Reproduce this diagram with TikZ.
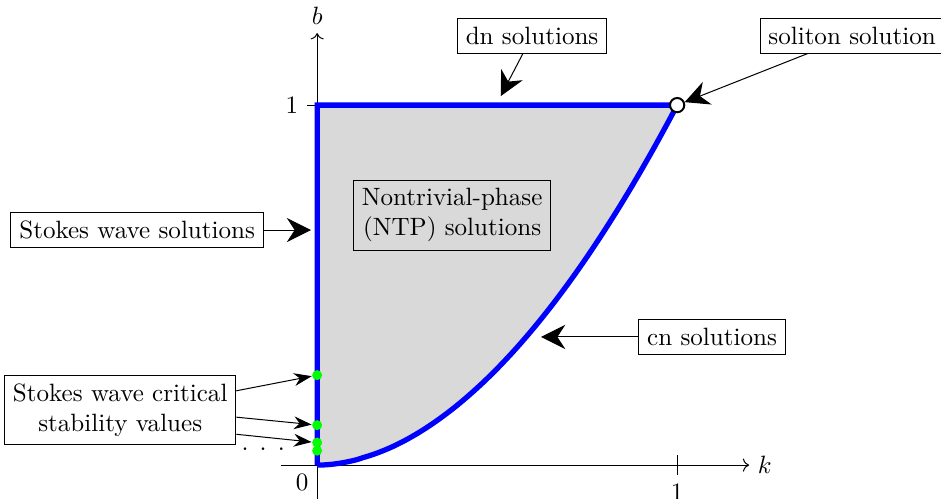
\documentclass[tikz,border=0pt]{standalone}
\usetikzlibrary{arrows.meta}

\begin{document}
\begin{tikzpicture}[x=5.05cm, y=5.05cm,
  labelbox/.style={draw, align=center},
  bigarrow/.style={-{Stealth[length=3.4mm, width=3.4mm]}},
  smallarrow/.style={-{Stealth[length=2.5mm, width=1.8mm]}},
  critdot/.style={circle, fill=green, inner sep=0pt, minimum size=1.4mm}]
  \useasboundingbox (-0.881,-0.094) rectangle (1.733,1.292);
  % shade the NTP region
  \fill[gray!30] (0,0) -- (0,1) -- (1,1)
    -- plot[domain=1:0.01, samples=60, smooth] (\x,{\x^1.9}) -- cycle;
  % axes and ticks
  \draw[->] (-0.1,0) -- (1.2,0) node[right] (klabel) {$k$};
  \draw[->] (0,-0.1) -- (0,1.2) node[above] (blabel) {$b$};
  \draw (1,0.028) -- (1,-0.028) node[below] (kone) {$1$};
  \draw (0.028,1) -- (-0.028,1) node[left] (bone) {$1$};
  \node[below left] (zero) at (0,0) {$0$};
  % blue boundary of the region
  \draw[blue, line width=2.1pt] (0,0) -- (0,1) -- (1,1)
    -- plot[domain=1:0.01, samples=60, smooth] (\x,{\x^1.9}) -- (0,0);
  % critical values b = 1/n^2
  \foreach \n in {2,...,5}
    \node[critdot] (crit\n) at (0,{1/(\n*\n)}) {};
  \node[circle, draw, fill=white, thick, inner sep=0pt, minimum size=2mm] (soliton) at (1,1) {};
  % label boxes
  \node[labelbox] (dnbox) at (0.597,1.192) {dn solutions};
  \node[labelbox] (solbox) at (1.486,1.192) {soliton solution};
  \node[labelbox] (stokesbox) at (-0.5,0.653) {Stokes wave solutions};
  \node[labelbox] (ntpbox) at (0.375,0.694) {Nontrivial-phase\\(NTP) solutions};
  \node[labelbox] (cnbox) at (1.097,0.356) {cn solutions};
  \node[labelbox] (critbox) at (-0.547,0.153) {Stokes wave critical\\stability values};
  \node (moredots) at (-0.15,0.045) {. . .};
  % arrow tips
  \coordinate (dntip) at (0.51,1.025);
  \coordinate (stokestip) at (-0.017,0.653);
  \coordinate (cntip) at (0.622,0.356);
  % arrows
  \draw[bigarrow] (dnbox) -- (dntip);
  \draw[bigarrow] (solbox) -- (soliton);
  \draw[bigarrow] (stokesbox.east) -- (stokestip);
  \draw[bigarrow] (cnbox.west) -- (cntip);
  \draw[smallarrow] ([yshift=2.7mm]critbox.east) -- (crit2);
  \draw[smallarrow] ([yshift=-1mm]critbox.east) -- (crit3);
  \draw[smallarrow] ([yshift=-3.4mm]critbox.east) -- (crit4);
\end{tikzpicture}
\end{document}
